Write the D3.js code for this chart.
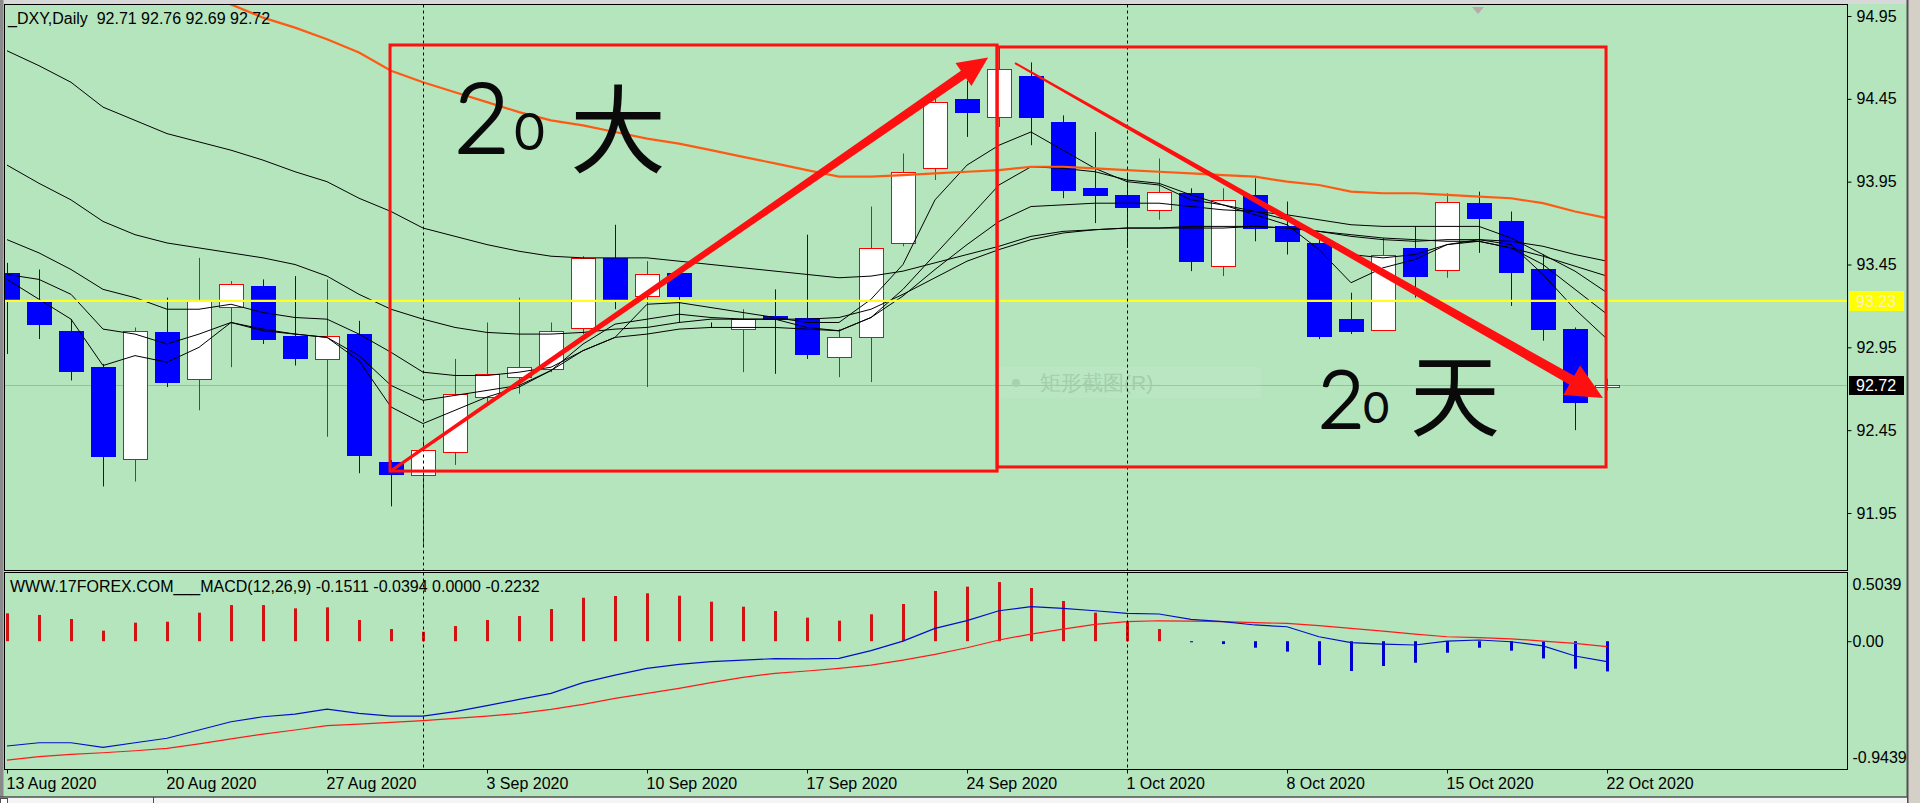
<!DOCTYPE html>
<html><head><meta charset="utf-8">
<script src="https://cdn.jsdelivr.net/npm/d3@7"></script>
<style>
html,body{margin:0;padding:0;background:#b5e5bd;overflow:hidden}
svg{display:block}
text{font-family:"Liberation Sans",Arial,sans-serif}
</style></head><body>
<svg id="c" width="1920" height="803"></svg>
<script>
// ---------------- DATA ----------------
const candleDates = ["2020-08-13","2020-08-14","2020-08-17","2020-08-18","2020-08-19","2020-08-20","2020-08-21","2020-08-24","2020-08-25","2020-08-26","2020-08-27","2020-08-28","2020-08-31",
"2020-09-01","2020-09-02","2020-09-03","2020-09-04","2020-09-07","2020-09-08","2020-09-09","2020-09-10","2020-09-11","2020-09-14","2020-09-15","2020-09-16","2020-09-17","2020-09-18","2020-09-21","2020-09-22","2020-09-23","2020-09-24","2020-09-25","2020-09-28","2020-09-29","2020-09-30",
"2020-10-01","2020-10-02","2020-10-05","2020-10-06","2020-10-07","2020-10-08","2020-10-09","2020-10-12","2020-10-13","2020-10-14","2020-10-15","2020-10-16","2020-10-19","2020-10-20","2020-10-21","2020-10-22"];
const opens  = [93.40,93.23,93.05,92.83,92.28,93.04,92.76,93.19,93.32,93.02,92.88,93.03,92.26,92.18,92.32,92.65,92.77,92.82,93.07,93.49,93.26,93.40,93.09,93.06,93.14,93.13,92.89,93.01,93.58,94.03,94.45,94.34,94.59,94.31,93.91,93.87,93.78,93.88,93.44,93.87,93.68,93.58,93.12,93.06,93.55,93.42,93.82,93.71,93.42,93.06,92.71];
const highs  = [93.46,93.42,93.12,92.85,93.07,93.25,93.49,93.35,93.36,93.38,93.36,93.11,92.27,92.41,92.88,93.10,93.25,93.10,93.50,93.69,93.47,93.42,93.10,93.18,93.30,93.63,93.06,93.80,94.12,94.45,94.56,94.76,94.67,94.35,94.25,94.00,94.09,93.91,93.91,93.97,93.83,93.60,93.28,93.61,93.68,93.88,93.89,93.77,93.51,93.07,92.76];
const lows   = [92.91,93.00,92.75,92.11,92.14,92.71,92.57,92.83,92.97,92.84,92.41,92.19,91.99,91.75,92.24,92.62,92.67,92.80,93.03,93.18,92.71,93.10,93.07,92.80,92.79,92.88,92.77,92.74,93.56,93.96,94.22,94.28,94.17,93.85,93.70,93.55,93.72,93.41,93.38,93.59,93.51,93.00,93.03,93.05,93.25,93.37,93.52,93.20,92.99,92.45,92.69];
const closes = [93.24,93.09,92.81,92.29,93.05,92.74,93.23,93.33,93.00,92.89,93.02,92.30,92.19,92.33,92.67,92.79,92.83,93.05,93.49,93.24,93.39,93.26,93.09,93.12,93.12,92.91,93.01,93.55,94.01,94.43,94.37,94.63,94.34,93.90,93.87,93.80,93.89,93.47,93.84,93.67,93.59,93.02,93.05,93.51,93.38,93.83,93.73,93.40,93.06,92.62,92.72];

// moving averages (black lines, slow -> fast) and the orange one
const maA = [94.74,94.65,94.55,94.40,94.32,94.24,94.19,94.14,94.08,94.01,93.95,93.85,93.77,93.67,93.62,93.57,93.53,93.50,93.49,93.49,93.49,93.47,93.45,93.43,93.41,93.39,93.37,93.38,93.41,93.46,93.51,93.56,93.62,93.65,93.66,93.67,93.67,93.68,93.68,93.68,93.67,93.65,93.62,93.60,93.59,93.60,93.60,93.59,93.56,93.51,93.47];
const maB = [94.05,93.94,93.84,93.71,93.63,93.58,93.55,93.52,93.49,93.45,93.38,93.27,93.18,93.12,93.07,93.04,93.03,93.03,93.04,93.06,93.07,93.10,93.12,93.12,93.12,93.12,93.13,93.18,93.27,93.37,93.47,93.54,93.60,93.64,93.66,93.67,93.67,93.67,93.67,93.68,93.67,93.65,93.63,93.61,93.60,93.59,93.59,93.55,93.50,93.44,93.38];
const maC = [93.60,93.52,93.42,93.30,93.25,93.18,93.18,93.21,93.16,93.13,93.12,93.03,92.92,92.80,92.78,92.78,92.80,92.83,92.93,93.01,93.03,93.06,93.07,93.07,93.07,93.06,93.05,93.13,93.26,93.42,93.57,93.71,93.80,93.81,93.82,93.82,93.82,93.80,93.78,93.77,93.75,93.72,93.69,93.68,93.68,93.68,93.68,93.61,93.51,93.41,93.28];
const maD = [93.39,93.36,93.27,93.06,93.03,92.97,93.03,93.10,93.06,93.03,93.01,92.90,92.72,92.63,92.66,92.69,92.72,92.81,92.97,93.09,93.12,93.15,93.13,93.12,93.12,93.07,93.05,93.13,93.30,93.51,93.72,93.93,94.04,94.03,94.01,93.96,93.94,93.87,93.81,93.77,93.72,93.63,93.51,93.49,93.51,93.57,93.59,93.55,93.45,93.30,93.15];
const maE = [93.36,93.24,93.12,92.84,92.90,92.86,92.95,93.10,93.05,93.03,93.01,92.87,92.59,92.49,92.57,92.65,92.71,92.81,92.93,93.01,93.21,93.22,93.19,93.16,93.13,93.10,93.10,93.24,93.45,93.84,94.05,94.17,94.25,94.14,94.03,93.95,93.93,93.84,93.81,93.75,93.69,93.54,93.34,93.43,93.48,93.57,93.60,93.57,93.39,93.18,93.00];
const maOrange = [null,null,null,null,null,null,95.09,95.02,94.94,94.88,94.81,94.73,94.62,94.55,94.49,94.43,94.37,94.32,94.29,94.25,94.21,94.18,94.14,94.10,94.06,94.02,93.98,93.98,93.99,94.00,94.01,94.02,94.04,94.04,94.03,94.02,94.01,94.00,93.99,93.98,93.95,93.93,93.89,93.88,93.88,93.87,93.86,93.85,93.82,93.77,93.73];

// MACD(12,26,9)
const macdLine   = [-0.774,-0.750,-0.750,-0.784,-0.750,-0.717,-0.656,-0.595,-0.558,-0.538,-0.501,-0.533,-0.553,-0.553,-0.520,-0.476,-0.430,-0.385,-0.306,-0.250,-0.200,-0.171,-0.151,-0.139,-0.129,-0.131,-0.127,-0.070,0.001,0.095,0.152,0.225,0.255,0.243,0.225,0.206,0.201,0.161,0.144,0.120,0.107,0.033,-0.011,-0.021,-0.028,0.001,0.009,-0.004,-0.035,-0.109,-0.1511];
const signalLine = [-0.878,-0.853,-0.836,-0.824,-0.809,-0.791,-0.759,-0.722,-0.686,-0.656,-0.624,-0.612,-0.599,-0.587,-0.570,-0.553,-0.533,-0.503,-0.466,-0.422,-0.385,-0.348,-0.306,-0.267,-0.237,-0.220,-0.200,-0.176,-0.139,-0.097,-0.048,0.009,0.053,0.090,0.125,0.144,0.151,0.149,0.144,0.137,0.132,0.115,0.095,0.075,0.053,0.033,0.026,0.018,0.001,-0.016,-0.0394];
const histogram  = [0.206,0.194,0.164,0.078,0.137,0.144,0.211,0.267,0.267,0.243,0.250,0.157,0.090,0.070,0.112,0.157,0.186,0.238,0.321,0.334,0.354,0.336,0.292,0.255,0.223,0.174,0.152,0.199,0.275,0.371,0.403,0.437,0.393,0.297,0.211,0.144,0.090,-0.008,-0.021,-0.048,-0.077,-0.176,-0.220,-0.183,-0.159,-0.085,-0.048,-0.070,-0.127,-0.203,-0.2232];

// axes / labels
const priceTicks = [94.95,94.45,93.95,93.45,92.95,92.45,91.95];
const macdTicks = [0.5039,0,-0.9439];
const macdTickLabels = ["0.5039","0.00","-0.9439"];
const dateTickIdx = [0,5,10,15,20,25,30,35,40,45,50];
const dateTickLabels = ["13 Aug 2020","20 Aug 2020","27 Aug 2020","3 Sep 2020","10 Sep 2020","17 Sep 2020","24 Sep 2020","1 Oct 2020","8 Oct 2020","15 Oct 2020","22 Oct 2020"];
const monthSeparators = [13,35];
const levelLine = 93.23;
const lastPrice = 92.72;
const titleText = "_DXY,Daily  92.71 92.76 92.69 92.72";
const macdTitle = "WWW.17FOREX.COM___MACD(12,26,9) -0.1511 -0.0394 0.0000 -0.2232";

// hand-drawn annotations in data units [bar index, price]
const boxes = [{i0:11.97,i1:30.94,p0:94.775,p1:92.203},{i0:30.94,i1:49.97,p0:94.763,p1:92.228}];
const arrows = [{from:[11.97,92.20],to:[30.66,94.70],w0:3,w1:9,hl:30,hw:14},
                {from:[31.5,94.666],to:[49.875,92.644],w0:2,w1:10,hl:36,hw:17}];
const notes = [
  {glyphs:[{t:"2",i:13.97,p:94.123,s:96,lat:true},{t:"0",i:15.875,p:94.147,s:50,lat:true},{t:"大",i:17.59,p:94.051,s:96}]},
  {glyphs:[{t:"2",i:40.97,p:92.463,s:80,lat:true},{t:"0",i:42.41,p:92.499,s:42,lat:true},{t:"天",i:43.84,p:92.457,s:90}]}
];

// ---------------- LAYOUT ----------------
const W=1920,H=803;
const PL=4.5, PR=1847.5, PT=4.5, PB=570.5, MT=572.5, MB=769.5;
const BG="#b5e5bd";
const svg=d3.select("#c");
svg.append("rect").attr("width",W).attr("height",H).attr("fill",BG);

const x=d3.scaleLinear().domain([0,50]).range([7,1607]);
const y=d3.scaleLinear().domain([91.95,94.95]).range([513,16]);
const ym=d3.scaleLinear().domain([-0.9439,0.5039]).range([769,573]);

const defs=svg.append("defs");
defs.append("clipPath").attr("id","pc").append("rect").attr("x",PL+0.5).attr("y",PT+0.5).attr("width",PR-PL-1).attr("height",PB-PT-1);
defs.append("clipPath").attr("id","mc").append("rect").attr("x",PL+0.5).attr("y",MT+0.5).attr("width",PR-PL-1).attr("height",MB-MT-1);

// window chrome
svg.append("rect").attr("x",0).attr("y",0).attr("width",W).attr("height",4).attr("fill","#d8d8d8");
svg.append("rect").attr("x",0).attr("y",0).attr("width",3.5).attr("height",H).attr("fill","#8a8a8a");
svg.append("rect").attr("x",1907).attr("y",0).attr("width",13).attr("height",H).attr("fill","#d4d0c8");
svg.append("line").attr("x1",1907.5).attr("x2",1907.5).attr("y1",0).attr("y2",H).attr("stroke","#505050").attr("stroke-width",2);
svg.append("rect").attr("x",0).attr("y",797).attr("width",1907).attr("height",6).attr("fill","#f4f4f4");
svg.append("line").attr("x1",0).attr("x2",1907).attr("y1",797).attr("y2",797).attr("stroke","#505050").attr("stroke-width",1.5);
svg.append("line").attr("x1",153.5).attr("x2",153.5).attr("y1",797).attr("y2",803).attr("stroke","#505050");
svg.append("rect").attr("x",0.5).attr("y",798.5).attr("width",7).attr("height",5).attr("fill","#fff").attr("stroke","#505050");
// small marker at top
svg.append("path").attr("d","M1472,7 L1484,7 L1478,14 Z").attr("fill","#b8a8b0");

// ---------------- PRICE PANE ----------------
const gp=svg.append("g").attr("clip-path","url(#pc)");
const gm=svg.append("g").attr("clip-path","url(#mc)");

// month separators
monthSeparators.forEach(i=>{
  [[PT,PB],[MT,MB]].forEach(([a,b])=>{
    svg.append("line").attr("x1",Math.round(x(i))+0.5).attr("x2",Math.round(x(i))+0.5)
      .attr("y1",a).attr("y2",b).attr("stroke","#000").attr("stroke-width",1).attr("stroke-dasharray","3,3");
  });
});

// last price line (grey)
gp.append("line").attr("x1",PL).attr("x2",PR).attr("y1",Math.round(y(lastPrice))+0.5).attr("y2",Math.round(y(lastPrice))+0.5)
  .attr("stroke","#a9b4ab").attr("stroke-width",1);

// candles
const data=d3.range(opens.length).map(i=>({i,o:opens[i],h:highs[i],l:lows[i],c:closes[i]}));
const BW=24;
function col(d){ if(Math.abs(d.c-d.o)<0.005) return "#000"; return d.c>d.o?"#ff0000":"#0000ff"; }
gp.selectAll("line.wick").data(data).join("line").attr("class","wick")
  .attr("x1",d=>Math.round(x(d.i))+0.5).attr("x2",d=>Math.round(x(d.i))+0.5)
  .attr("y1",d=>y(d.h)).attr("y2",d=>y(d.l)).attr("stroke",col).attr("stroke-width",1);
gp.selectAll("rect.body").data(data).join("rect").attr("class","body")
  .attr("x",d=>Math.round(x(d.i)-BW/2)+0.5)
  .attr("y",d=>Math.round(y(Math.max(d.o,d.c)))+0.5)
  .attr("width",BW)
  .attr("height",d=>Math.max(0,Math.round(Math.abs(y(d.o)-y(d.c)))))
  .attr("fill",d=>Math.abs(d.c-d.o)<0.005?"none":(d.c>d.o?"#ffffff":"#0000ff"))
  .attr("stroke",col).attr("stroke-width",1).attr("shape-rendering","crispEdges");

// moving averages
const lineGen=d3.line().defined(d=>d!=null).x((d,i)=>x(i)).y(d=>y(d));
[maA,maB,maC,maD,maE].forEach(arr=>{
  gp.append("path").datum(arr).attr("d",lineGen).attr("fill","none").attr("stroke","#000").attr("stroke-width",1);
});
gp.append("path").datum(maOrange).attr("d",lineGen).attr("fill","none").attr("stroke","#ff5a14").attr("stroke-width",2.2);

// yellow level line
gp.append("line").attr("x1",PL).attr("x2",PR).attr("y1",y(levelLine)).attr("y2",y(levelLine))
  .attr("stroke","#ffff1e").attr("stroke-width",2.2);

// faint screenshot tooltip
gp.append("rect").attr("x",999).attr("y",367).attr("width",262).attr("height",31).attr("rx",3)
  .attr("fill","#ffffff").attr("fill-opacity",0.07);
gp.append("circle").attr("cx",1016).attr("cy",383).attr("r",4).attr("fill","#a6d3ae");
gp.append("text").attr("x",1040).attr("y",390).attr("font-size",21)
  .attr("font-family","'Noto Sans CJK SC',sans-serif").attr("fill","#a3cfab").text("矩形截图(R)");

// ---------------- ANNOTATIONS ----------------
const ga=svg.append("g");
boxes.forEach(b=>{
  ga.append("rect").attr("x",x(b.i0)).attr("y",y(b.p0)).attr("width",x(b.i1)-x(b.i0)).attr("height",y(b.p1)-y(b.p0))
    .attr("fill","none").attr("stroke","#ff1010").attr("stroke-width",3);
});
function arrowPoly(p0,p1,w0,w1,hl,hw){
  const dx=p1[0]-p0[0],dy=p1[1]-p0[1],L=Math.hypot(dx,dy);
  const ux=dx/L,uy=dy/L,nx=-uy,ny=ux;
  const bx=p1[0]-ux*hl,by=p1[1]-uy*hl;
  return [[p0[0]+nx*w0/2,p0[1]+ny*w0/2],[bx+nx*w1/2,by+ny*w1/2],[bx+nx*hw,by+ny*hw],[p1[0],p1[1]],
          [bx-nx*hw,by-ny*hw],[bx-nx*w1/2,by-ny*w1/2],[p0[0]-nx*w0/2,p0[1]-ny*w0/2]];
}
arrows.forEach(a=>{
  const pts=arrowPoly([x(a.from[0]),y(a.from[1])],[x(a.to[0]),y(a.to[1])],a.w0,a.w1,a.hl,a.hw);
  ga.append("path").attr("d","M"+pts.map(p=>p.join(",")).join("L")+"Z").attr("fill","#ff1010");
});
notes.forEach(n=>{
  const t=ga.append("text").attr("fill","#0a0a0a");
  n.glyphs.forEach(g=>{
    const ts=t.append("tspan").attr("x",x(g.i)).attr("y",y(g.p)).attr("font-size",g.s)
      .attr("font-family",g.lat?"Lato,'DejaVu Sans',sans-serif":"'Noto Sans CJK SC',sans-serif")
      .attr("font-weight",g.lat?300:400).text(g.t);
    if(g.lat) ts.attr("stroke","#0a0a0a").attr("stroke-width",2.2).attr("stroke-linejoin","round");
  });
});

// ---------------- MACD PANE ----------------
const z=ym(0);
gm.selectAll("line.hist").data(histogram).join("line").attr("class","hist")
  .attr("x1",(d,i)=>Math.round(x(i))+0.5).attr("x2",(d,i)=>Math.round(x(i))+0.5)
  .attr("y1",z).attr("y2",d=>ym(d))
  .attr("stroke",d=>d>=0?"#d01414":"#0000cc").attr("stroke-width",3);
const mLine=d3.line().x((d,i)=>x(i)).y(d=>ym(d));
gm.append("path").datum(signalLine).attr("d",mLine).attr("fill","none").attr("stroke","#ff1a1a").attr("stroke-width",1.2);
gm.append("path").datum(macdLine).attr("d",mLine).attr("fill","none").attr("stroke","#0010c8").attr("stroke-width",1.2);

// ---------------- FRAMES ----------------
svg.append("rect").attr("x",PL).attr("y",PT).attr("width",PR-PL).attr("height",PB-PT).attr("fill","none").attr("stroke","#000");
svg.append("rect").attr("x",PL).attr("y",MT).attr("width",PR-PL).attr("height",MB-MT).attr("fill","none").attr("stroke","#000");

// titles
svg.append("text").attr("x",8).attr("y",24).attr("font-size",16).attr("fill","#000")
  .style("white-space","pre").text(titleText);
svg.append("text").attr("x",10).attr("y",592).attr("font-size",16).attr("fill","#000")
  .style("white-space","pre").text(macdTitle);

// ---------------- AXES ----------------
const ay=svg.append("g").attr("transform",`translate(${PR},0)`)
  .call(d3.axisRight(y).tickValues(priceTicks).tickFormat(d3.format(".2f")).tickSize(4).tickPadding(5));
ay.select(".domain").remove();
ay.selectAll("text").attr("font-size",16).attr("font-family","'Liberation Sans',Arial,sans-serif").attr("fill","#000");
ay.selectAll("line").attr("stroke","#000");

const am=svg.append("g").attr("transform",`translate(${PR},0)`)
  .call(d3.axisRight(ym).tickValues(macdTicks).tickFormat((d,k)=>macdTickLabels[k]).tickSize(4).tickPadding(1));
am.select(".domain").remove();
am.selectAll("text").attr("font-size",16).attr("font-family","'Liberation Sans',Arial,sans-serif").attr("fill","#000");
am.selectAll(".tick").each(function(d){
  const s=d3.select(this);
  if(d===macdTicks[0]){ s.select("line").remove(); s.select("text").attr("dy","1.05em"); }
  if(d===macdTicks[2]){ s.select("line").remove(); s.select("text").attr("dy","-0.38em"); }
});

const ax=svg.append("g").attr("transform",`translate(0,${MB})`)
  .call(d3.axisBottom(x).tickValues(dateTickIdx).tickFormat((d,k)=>dateTickLabels[k]).tickSize(4).tickPadding(4));
ax.select(".domain").remove();
ax.selectAll("text").attr("font-size",16).attr("font-family","'Liberation Sans',Arial,sans-serif")
  .attr("fill","#000").attr("text-anchor","start").attr("x",-1);
ax.selectAll("line").attr("stroke","#000");

// price labels on axis
const ly=Math.round(y(levelLine));
svg.append("rect").attr("x",1849).attr("y",ly-10).attr("width",55).attr("height",20).attr("fill","#ffff00");
svg.append("text").attr("x",1856).attr("y",ly).attr("dy","0.35em").attr("font-size",16).attr("fill","#f6f4b8").text(levelLine.toFixed(2));
const lp=Math.round(y(lastPrice));
svg.append("rect").attr("x",1849).attr("y",lp-9).attr("width",55).attr("height",19).attr("fill","#000");
svg.append("text").attr("x",1856).attr("y",lp).attr("dy","0.35em").attr("font-size",16).attr("fill","#fff").text(lastPrice.toFixed(2));
</script>
</body></html>
